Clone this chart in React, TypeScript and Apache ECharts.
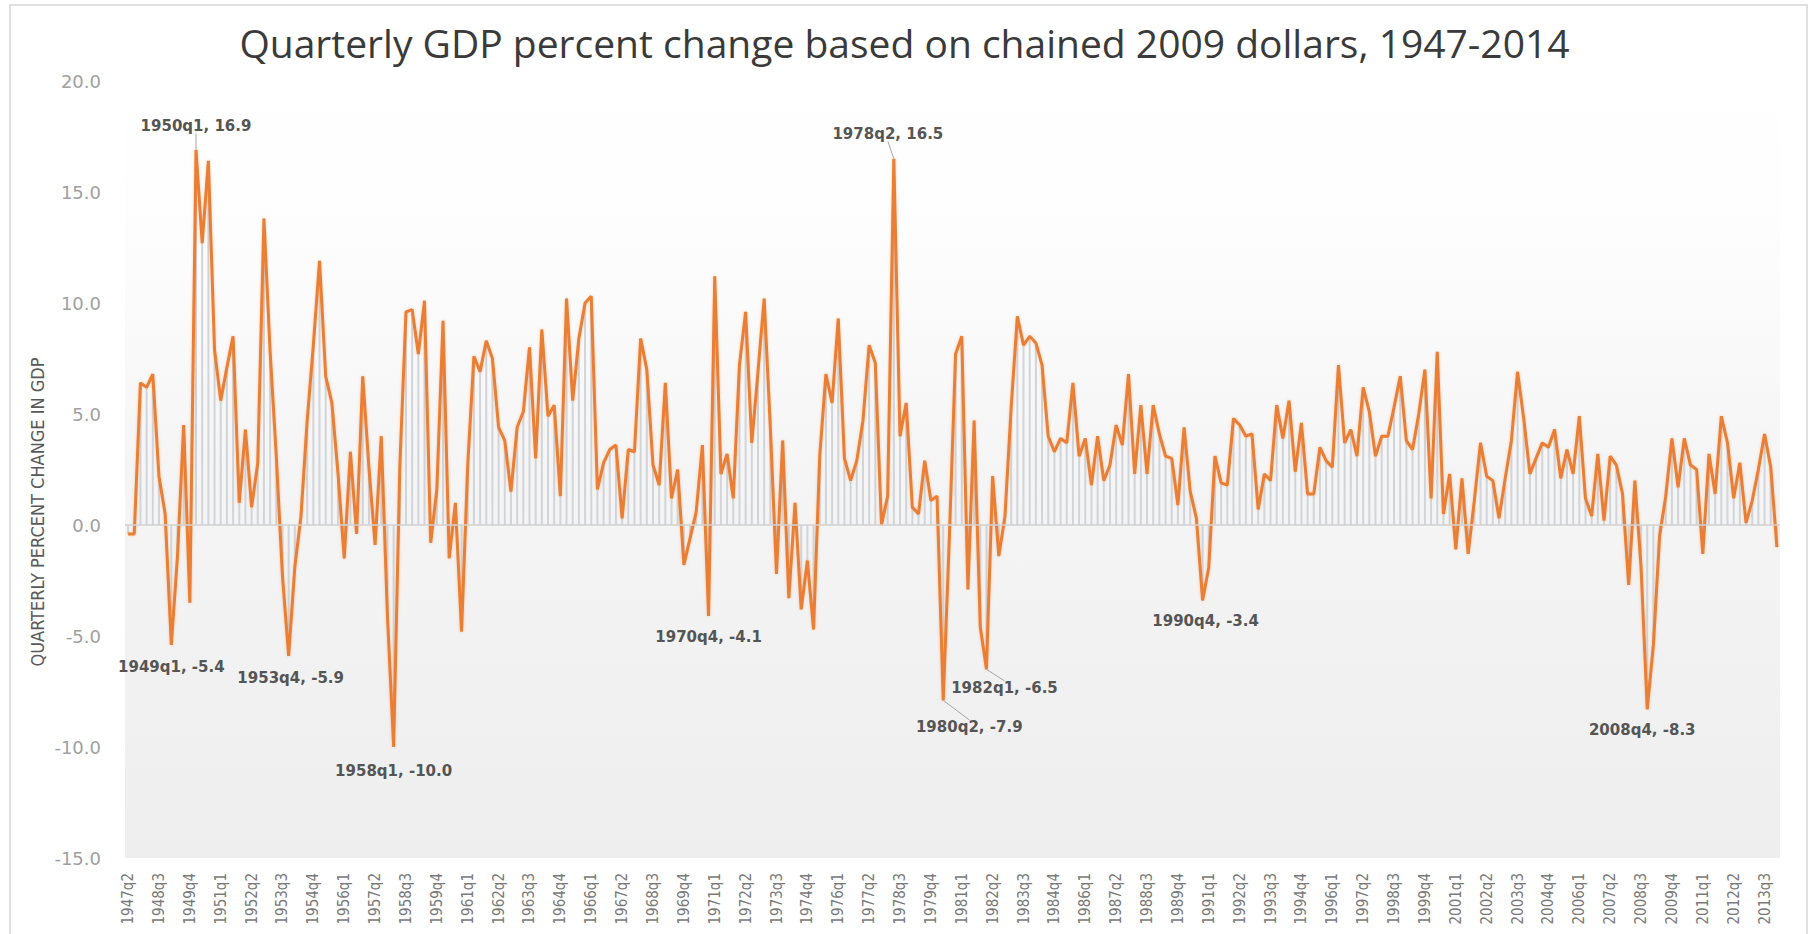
import React, { useEffect, useRef } from "react";
import * as echarts from "echarts";

// First observation: 1947 Q2
const startYear = 1947;
const startQuarter = 2;

// Quarterly GDP percent change (annualized), chained 2009 dollars, 1947q2 .. 2014q1
const gdpChange: number[] = [
  -0.4, -0.4, 6.4, // 1947
  6.2, 6.8, 2.2, 0.5, // 1948
  -5.4, -1.4, 4.5, -3.5, // 1949
  16.9, 12.7, 16.4, 7.9, // 1950
  5.6, 7.1, 8.5, 1.0, // 1951
  4.3, 0.8, 2.8, 13.8, // 1952
  7.8, 3.1, -2.3, -5.9, // 1953
  -1.9, 0.4, 4.7, 8.1, // 1954
  11.9, 6.7, 5.5, 2.3, // 1955
  -1.5, 3.3, -0.4, 6.7, // 1956
  2.6, -0.9, 4.0, -4.1, // 1957
  -10.0, 2.6, 9.6, 9.7, // 1958
  7.7, 10.1, -0.8, 1.6, // 1959
  9.2, -1.5, 1.0, -4.8, // 1960
  2.7, 7.6, 6.9, 8.3, // 1961
  7.5, 4.4, 3.8, 1.5, // 1962
  4.4, 5.1, 8.0, 3.0, // 1963
  8.8, 4.9, 5.4, 1.3, // 1964
  10.2, 5.6, 8.4, 10.0, // 1965
  10.3, 1.6, 2.8, 3.4, // 1966
  3.6, 0.3, 3.4, 3.3, // 1967
  8.4, 7.0, 2.7, 1.8, // 1968
  6.4, 1.2, 2.5, -1.8, // 1969
  -0.6, 0.6, 3.6, -4.1, // 1970
  11.2, 2.3, 3.2, 1.2, // 1971
  7.2, 9.6, 3.7, 6.9, // 1972
  10.2, 4.4, -2.2, 3.8, // 1973
  -3.3, 1.0, -3.8, -1.6, // 1974
  -4.7, 3.1, 6.8, 5.5, // 1975
  9.3, 3.0, 2.0, 2.9, // 1976
  4.7, 8.1, 7.3, 0.0, // 1977
  1.3, 16.5, 4.0, 5.5, // 1978
  0.8, 0.5, 2.9, 1.1, // 1979
  1.3, -7.9, -0.5, 7.7, // 1980
  8.5, -2.9, 4.7, -4.6, // 1981
  -6.5, 2.2, -1.4, 0.4, // 1982
  5.3, 9.4, 8.1, 8.5, // 1983
  8.2, 7.2, 4.0, 3.3, // 1984
  3.9, 3.7, 6.4, 3.1, // 1985
  3.9, 1.8, 4.0, 2.0, // 1986
  2.7, 4.5, 3.6, 6.8, // 1987
  2.3, 5.4, 2.3, 5.4, // 1988
  4.1, 3.1, 3.0, 0.9, // 1989
  4.4, 1.5, 0.3, -3.4, // 1990
  -1.9, 3.1, 1.9, 1.8, // 1991
  4.8, 4.5, 4.0, 4.1, // 1992
  0.7, 2.3, 2.0, 5.4, // 1993
  3.9, 5.6, 2.4, 4.6, // 1994
  1.4, 1.4, 3.5, 2.9, // 1995
  2.6, 7.2, 3.7, 4.3, // 1996
  3.1, 6.2, 5.1, 3.1, // 1997
  4.0, 4.0, 5.3, 6.7, // 1998
  3.8, 3.4, 5.0, 7.0, // 1999
  1.2, 7.8, 0.5, 2.3, // 2000
  -1.1, 2.1, -1.3, 1.1, // 2001
  3.7, 2.2, 2.0, 0.3, // 2002
  2.1, 3.8, 6.9, 4.8, // 2003
  2.3, 3.0, 3.7, 3.5, // 2004
  4.3, 2.1, 3.4, 2.3, // 2005
  4.9, 1.2, 0.4, 3.2, // 2006
  0.2, 3.1, 2.7, 1.4, // 2007
  -2.7, 2.0, -1.9, -8.3, // 2008
  -5.4, -0.5, 1.3, 3.9, // 2009
  1.7, 3.9, 2.7, 2.5, // 2010
  -1.3, 3.2, 1.4, 4.9, // 2011
  3.7, 1.2, 2.8, 0.1, // 2012
  1.1, 2.5, 4.1, 2.6, // 2013
  -1.0, // 2014
];

// Category labels "YYYYqN"
const quarters: string[] = gdpChange.map((_, i) => {
  const k = startQuarter - 1 + i;
  return `${startYear + Math.floor(k / 4)}q${(k % 4) + 1}`;
});

// Quarters that carry a data label
const annotatedQuarters: string[] = [
  "1949q1", "1950q1", "1953q4", "1958q1", "1970q4",
  "1978q2", "1980q2", "1982q1", "1990q4", "2008q4",
];

const yTicks = { min: -15, max: 20, step: 5 };

const titleText = "Quarterly GDP percent change based on chained 2009 dollars, 1947-2014";
const yAxisTitle = "QUARTERLY PERCENT CHANGE IN GDP";

// label placement (pixel offsets from the point) and whether a leader line is drawn
const labelPlacement: Record<string, { dx: number; dy: number; guide: boolean }> = {
  "1949q1": { dx: 0, dy: 22, guide: false },
  "1950q1": { dx: 0, dy: -24, guide: true },
  "1953q4": { dx: 2, dy: 22, guide: false },
  "1958q1": { dx: 0, dy: 24, guide: false },
  "1970q4": { dx: 0, dy: 21, guide: false },
  "1978q2": { dx: -6, dy: -25, guide: true },
  "1980q2": { dx: 26, dy: 27, guide: true },
  "1982q1": { dx: 18, dy: 19, guide: true },
  "1990q4": { dx: 3, dy: 21, guide: false },
  "2008q4": { dx: -5, dy: 21, guide: false },
};

const NARROW = '"DejaVu Sans Condensed", "Liberation Sans Narrow", sans-serif';

export default function App() {
  const ref = useRef<HTMLDivElement>(null);

  useEffect(() => {
    if (!ref.current) return;
    const chart = echarts.init(ref.current, undefined, { renderer: "svg" });

    const lineData = gdpChange.map((v, i) => {
      const q = quarters[i];
      if (annotatedQuarters.includes(q)) {
        const p = labelPlacement[q];
        return {
          value: v,
          label: {
            show: true,
            position: "inside",
            formatter: `${q}, ${v.toFixed(1)}`,
          },
          labelLine: { show: !!(p && p.guide) },
        };
      }
      return v;
    });

    const option: any = {
      animation: false,
      backgroundColor: "#ffffff",
      title: {
        text: titleText,
        left: "center",
        top: 18,
        textStyle: {
          fontFamily: '"Open Sans", sans-serif',
          fontSize: 39,
          fontWeight: "normal",
          color: "#3a3a3a",
        },
      },
      grid: {
        left: 125,
        right: 29,
        top: 81,
        bottom: 76,
        show: true,
        borderWidth: 0,
        outerBoundsMode: "none",
        containLabel: false,
        backgroundColor: new echarts.graphic.LinearGradient(0, 0, 0, 1, [
          { offset: 0, color: "#ffffff" },
          { offset: 0.2, color: "#fdfdfd" },
          { offset: 0.5, color: "#f5f5f5" },
          { offset: 1, color: "#eeeeee" },
        ]),
      },
      xAxis: {
        type: "category",
        data: quarters,
        boundaryGap: true,
        axisLine: { show: false },
        axisTick: { show: false },
        splitLine: { show: false },
        axisLabel: {
          interval: 4,
          rotate: 90,
          margin: 15,
          color: "#7a7a7a",
          fontFamily: NARROW,
          fontSize: 15,
        },
      },
      yAxis: {
        type: "value",
        min: yTicks.min,
        max: yTicks.max,
        interval: yTicks.step,
        axisLine: { show: false },
        axisTick: { show: false },
        splitLine: { show: false },
        axisLabel: {
          formatter: (v: number) => v.toFixed(1),
          color: "#a0a0a0",
          fontFamily: '"DejaVu Sans", sans-serif',
          fontSize: 18,
          margin: 24,
        },
      },
      graphic: [
        {
          type: "rect",
          silent: true,
          z: -10,
          shape: { x: 10, y: 5, width: 1797, height: 940 },
          style: { fill: "none", stroke: "#d6d6d6", lineWidth: 1.5 },
        },
        {
          type: "text",
          x: 37,
          y: 512,
          rotation: Math.PI / 2,
          silent: true,
          style: {
            text: yAxisTitle,
            fill: "#595959",
            font: `18px ${NARROW}`,
            textAlign: "center",
            textVerticalAlign: "middle",
            align: "center",
            verticalAlign: "middle",
          },
        },
      ],
      series: [
        {
          type: "bar",
          data: gdpChange,
          barWidth: 2,
          silent: true,
          z: 1,
          itemStyle: { color: "#d1d4d9" },
          markLine: {
            silent: true,
            symbol: "none",
            label: { show: false },
            lineStyle: { color: "#d2d2d2", width: 1.5, type: "solid" },
            data: [{ yAxis: 0 }],
          },
        },
        {
          type: "line",
          data: lineData,
          z: 3,
          showSymbol: true,
          showAllSymbol: true,
          symbol: "circle",
          symbolSize: 1,
          itemStyle: { color: "rgba(0,0,0,0)", borderWidth: 0 },
          lineStyle: {
            color: "#EA7E34",
            width: 3,
            shadowColor: "rgba(234,126,52,0.35)",
            shadowBlur: 3,
          },
          label: {
            show: false,
            color: "#555555",
            fontFamily: '"DejaVu Sans", sans-serif',
            fontWeight: "bold",
            fontSize: 15,
          },
          labelLine: {
            show: false,
            lineStyle: { color: "#a6a6a6", width: 1 },
          },
          labelLayout: (params: any) => {
            const q = quarters[params.dataIndex];
            const p = labelPlacement[q];
            if (!p) return {};
            return { dx: p.dx, dy: p.dy };
          },
          emphasis: { disabled: true },
        },
      ],
    };

    chart.setOption(option);
    return () => chart.dispose();
  }, []);

  return (
    <div
      ref={ref}
      style={{ position: "absolute", left: 0, top: 0, width: 1809, height: 934 }}
    />
  );
}
